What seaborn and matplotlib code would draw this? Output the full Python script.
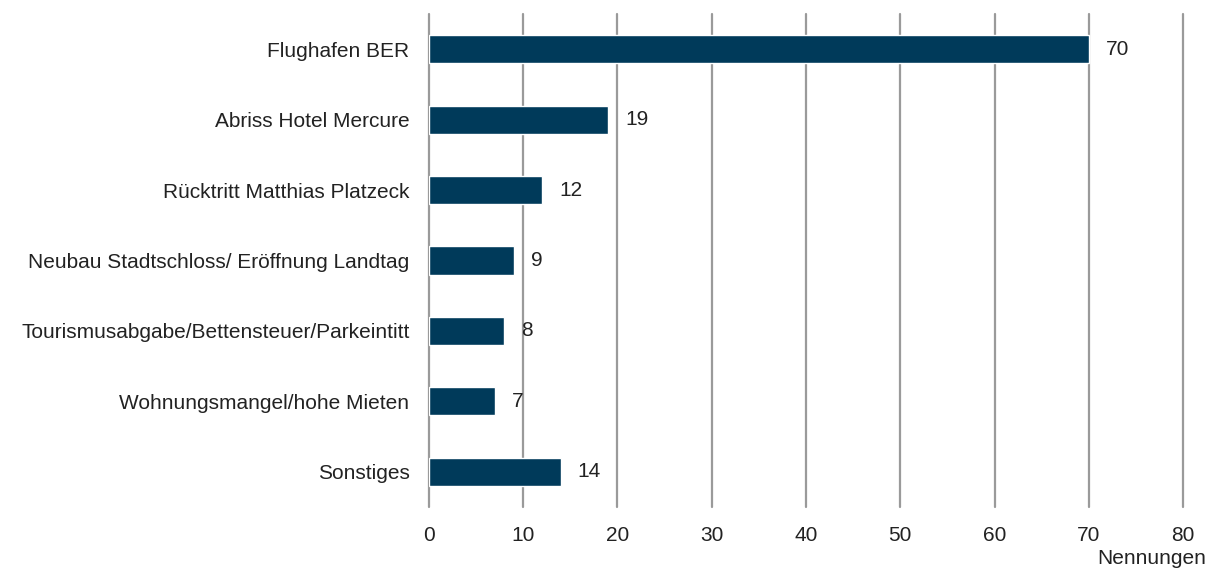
import matplotlib
matplotlib.use("Agg")
import matplotlib.pyplot as plt
import seaborn as sns
import pandas as pd

sns.set_style("white")
plt.rcParams['font.family'] = ['Liberation Sans', 'DejaVu Sans']

categories = ['Flughafen BER', 'Abriss Hotel Mercure', 'Rücktritt Matthias Platzeck',
              'Neubau Stadtschloss/ Eröffnung Landtag',
              'Tourismusabgabe/Bettensteuer/Parkeintitt',
              'Wohnungsmangel/hohe Mieten', 'Sonstiges']
values = [70, 19, 12, 9, 8, 7, 14]
xticks = [0, 10, 20, 30, 40, 50, 60, 70, 80]

df = pd.DataFrame({'thema': categories, 'nennungen': values})

fig = plt.figure(figsize=(12.15, 5.72), dpi=100)
ax = fig.add_axes([0.353, 0.1136, 0.6207, 0.862])

sns.barplot(data=df, x='nennungen', y='thema', color='#003a5a', width=0.4,
            saturation=1, ax=ax)
ax.set_xlim(0, 80)
ax.set_xticks(xticks)
ax.set_ylim(6.5, -0.5)
ax.set_axisbelow(True)
ax.grid(axis='x', color='#9a9a9a', lw=1.6)
ax.grid(axis='y', visible=False)
for gl in ax.get_xgridlines():
    gl.set_clip_on(False)

for i, v in enumerate(values):
    ax.text(v + 1.8, i, str(v), va='center', ha='left', fontsize=15, color='#222222')

for s in ax.spines.values():
    s.set_visible(False)
ax.tick_params(axis='both', length=0, labelsize=15, colors='#222222')
ax.tick_params(axis='y', pad=14)
ax.tick_params(axis='x', pad=14)
ax.set_ylabel('')
ax.set_xlabel('Nennungen', fontsize=15, color='#222222')
ax.xaxis.set_label_coords(1.03, -0.085)
ax.xaxis.label.set_horizontalalignment('right')
ax.xaxis.label.set_verticalalignment('top')

fig.savefig('out.png', dpi=100)
